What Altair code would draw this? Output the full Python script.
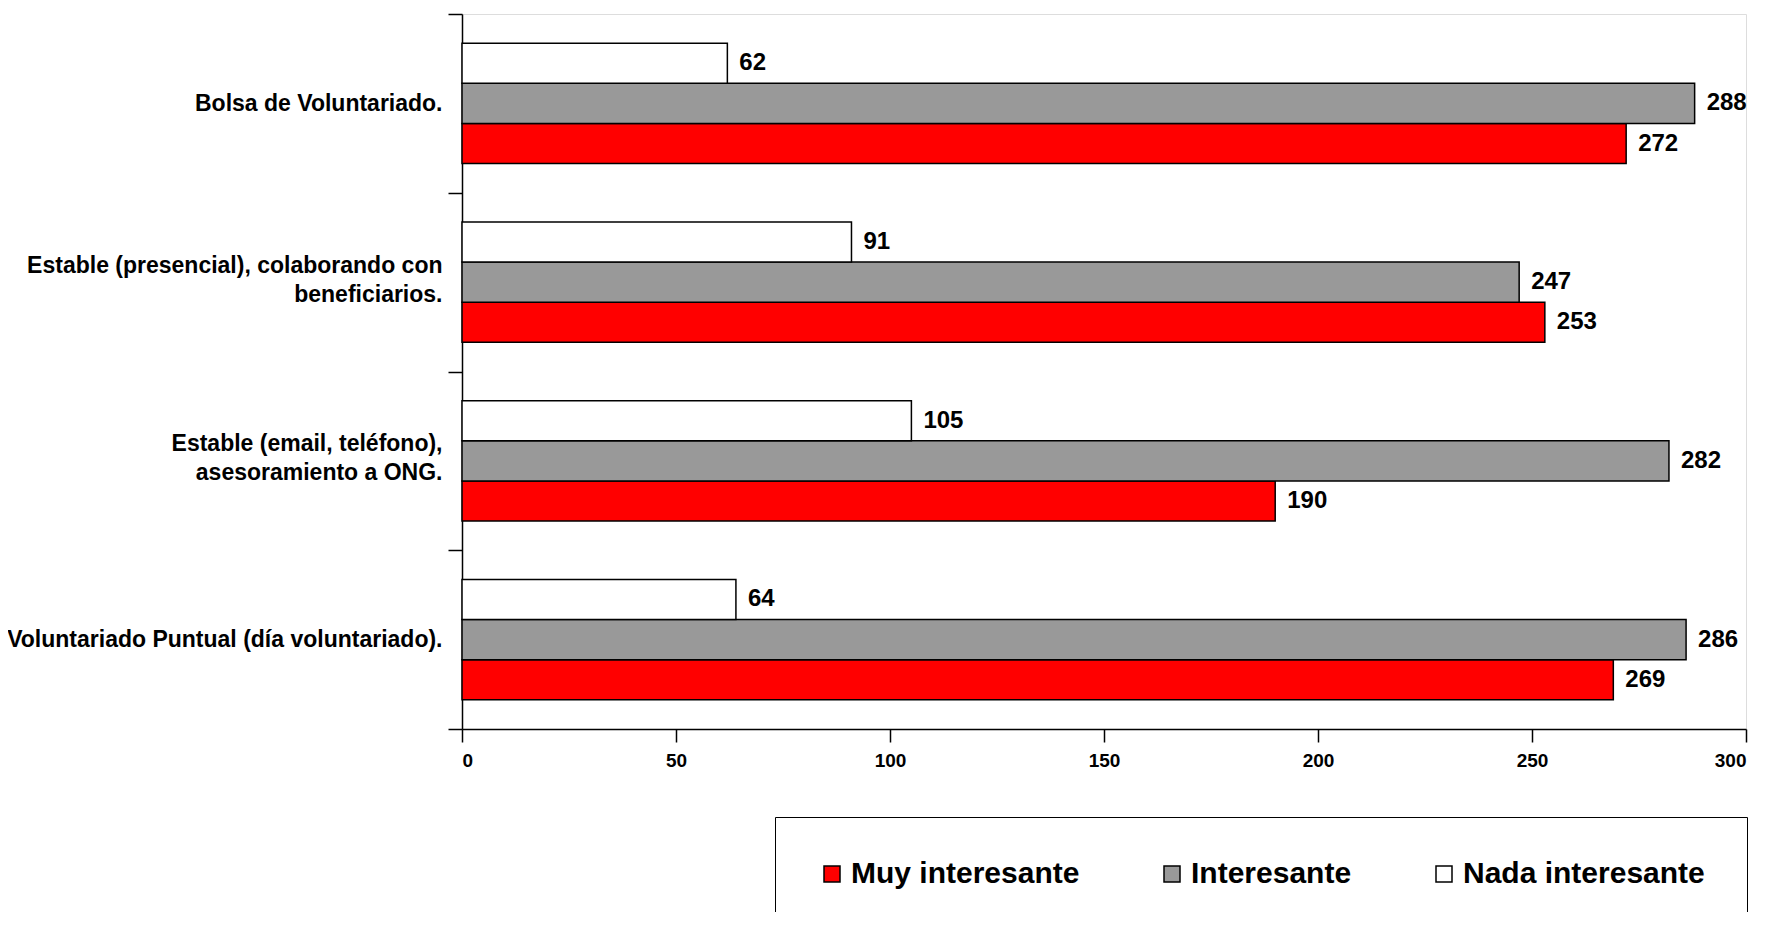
import altair as alt
import pandas as pd

categorias = [
    "Bolsa de Voluntariado.",
    "Estable (presencial), colaborando con\nbeneficiarios.",
    "Estable (email, teléfono),\nasesoramiento a ONG.",
    "Voluntariado Puntual (día voluntariado).",
]
series = ["Muy interesante", "Interesante", "Nada interesante"]
muy_interesante = [272, 253, 190, 269]
interesante = [288, 247, 282, 286]
nada_interesante = [62, 91, 105, 64]
colores = ["#FF0000", "#999999", "#FFFFFF"]

rows = []
for i, c in enumerate(categorias):
    for s, vals in zip(series, [muy_interesante, interesante, nada_interesante]):
        rows.append({"categoria": c, "serie": s, "valor": vals[i]})
df = pd.DataFrame(rows)

FONT = "Liberation Sans"
offset_order = ["Nada interesante", "Interesante", "Muy interesante"]

y_enc = alt.Y(
    "categoria:N",
    sort=categorias,
    scale=alt.Scale(paddingInner=0, paddingOuter=0),
    axis=alt.Axis(
        title=None,
        tickBand="extent",
        tickSize=14,
        tickColor="black",
        tickWidth=1.5,
        domainColor="black",
        domainWidth=1.5,
        labelFont=FONT,
        labelFontSize=23,
        labelFontWeight="bold",
        labelColor="black",
        labelPadding=6,
        labelLimit=0,
        labelLineHeight=29,
        labelOffset={"expr": "isValid(datum.value) && indexof(datum.value, '\\n') >= 0 ? -17 : 0"},
        labelExpr="isValid(datum.value) ? split(datum.value, '\\n') : ''",
    ),
)
yoff_enc = alt.YOffset("serie:N", sort=offset_order,
                       scale=alt.Scale(paddingInner=0, paddingOuter=0.726))
x_enc = alt.X(
    "valor:Q",
    scale=alt.Scale(domain=[0, 300], nice=False),
    axis=alt.Axis(
        title=None,
        values=[0, 50, 100, 150, 200, 250, 300],
        grid=False,
        tickSize=13,
        tickColor="black",
        tickWidth=1.5,
        domainColor="black",
        domainWidth=1.5,
        labelFont=FONT,
        labelFontSize=19,
        labelFontWeight="bold",
        labelColor="black",
        labelPadding=9,
    ),
)

bars = alt.Chart(df).mark_bar(stroke="black", strokeWidth=1.5).encode(
    y=y_enc,
    yOffset=yoff_enc,
    x=x_enc,
    color=alt.Color(
        "serie:N",
        scale=alt.Scale(domain=series, range=colores),
        legend=alt.Legend(
            title=None,
            orient="none",
            legendX=313,
            legendY=803,
            direction="horizontal",
            columns=3,
            symbolType="square",
            symbolSize=256,
            symbolStrokeColor="black",
            symbolStrokeWidth=1.5,
            labelFont=FONT,
            labelFontSize=30,
            labelFontWeight="bold",
            labelColor="black",
            labelLimit=0,
            labelOffset=4,
            columnPadding=77,
            padding=42,
            strokeColor="black",
            fillColor="white",
        ),
    ),
)

labels = alt.Chart(df).mark_text(
    align="left", baseline="middle", dx=12, font=FONT, fontSize=24,
    fontWeight="bold", color="black"
).encode(
    y=alt.Y("categoria:N", sort=categorias),
    yOffset=alt.YOffset("serie:N", sort=offset_order),
    x=alt.X("valor:Q"),
    text=alt.Text("valor:Q"),
)

chart = alt.layer(bars, labels).properties(
    width=1284,
    height=715,
    autosize=alt.AutoSizeParams(type="none"),
    padding={"left": 454, "top": 6, "right": 8, "bottom": 183},
).configure_view(stroke=None).configure(background="white")

chart.save("out.html", embed_options={"renderer": "svg", "actions": False})
